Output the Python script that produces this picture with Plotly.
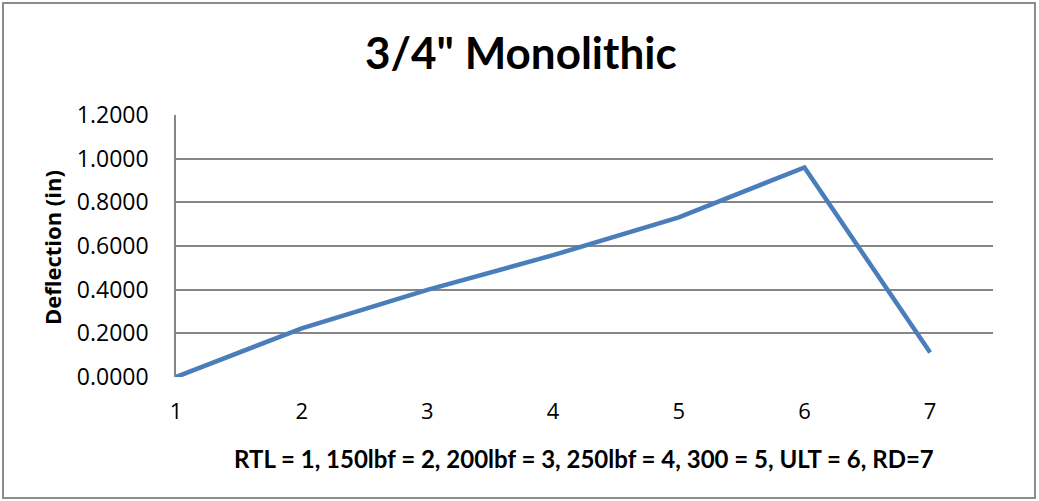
import plotly.graph_objects as go

# Load stages (category index) and measured deflection in inches
stage = [1, 2, 3, 4, 5, 6, 7]
deflection = [0.0, 0.223, 0.399, 0.558, 0.731, 0.960, 0.112]

y_ticks = [0.0, 0.2, 0.4, 0.6, 0.8, 1.0, 1.2]

title_text = '3/4" Monolithic'
x_title = "RTL = 1, 150lbf = 2, 200lbf = 3, 250lbf = 4, 300 = 5, ULT = 6, RD=7"
y_title = "Deflection (in)"

FONT = "Lato"
TICK_FONT = "Open Sans"
GRID = "#868686"

W, H = 1039, 501
L, R, T, B = 176, 46, 115, 124
pw, ph = W - L - R, H - T - B


def px_x(px):
    return (px - L) / pw


def px_y(py):
    return (H - B - py) / ph


fig = go.Figure()
fig.add_trace(go.Scatter(
    x=stage, y=deflection, mode="lines",
    line=dict(color="#4a7ebb", width=4.5),
    hoverinfo="x+y",
))

fig.update_layout(
    width=W, height=H,
    margin=dict(l=L, r=R, t=T, b=B),
    paper_bgcolor="white", plot_bgcolor="white",
    showlegend=False,
    font=dict(family=FONT, color="black"),
    xaxis=dict(
        range=[1, 7.5], tickvals=stage, ticktext=[str(s) for s in stage],
        showgrid=False, zeroline=False,
        showline=False, ticks="",
        tickfont=dict(size=22, family=TICK_FONT),
        ticklabelstandoff=19,
    ),
    yaxis=dict(
        range=[0, 1.2], tickvals=y_ticks, tickformat=".4f",
        showgrid=True, gridcolor=GRID, gridwidth=1.6,
        zeroline=False,
        showline=True, linecolor=GRID, linewidth=1.6,
        ticks="", tickfont=dict(size=23, family=TICK_FONT),
        ticklabelstandoff=21,
    ),
    annotations=[
        dict(text=f"<b>{title_text}</b>", xref="paper", yref="paper",
             x=px_x(521), y=px_y(52), showarrow=False,
             xanchor="center", yanchor="middle",
             font=dict(size=44, family=FONT, color="black")),
        dict(text=f"<b>{x_title}</b>", xref="paper", yref="paper",
             x=px_x(584), y=px_y(458), showarrow=False,
             xanchor="center", yanchor="middle",
             font=dict(size=24, family=FONT, color="black")),
        dict(text=f"<b>{y_title}</b>", xref="paper", yref="paper",
             x=px_x(52), y=px_y(248), showarrow=False, textangle=-90,
             xanchor="center", yanchor="middle",
             font=dict(size=22, family=TICK_FONT, color="black")),
    ],
    shapes=[
        dict(type="rect", xref="paper", yref="paper",
             x0=px_x(3), x1=px_x(1035), y0=px_y(498), y1=px_y(3),
             line=dict(color="#8c8c8c", width=2), fillcolor="rgba(0,0,0,0)",
             layer="below"),
    ],
)

fig.write_html("out.html")
